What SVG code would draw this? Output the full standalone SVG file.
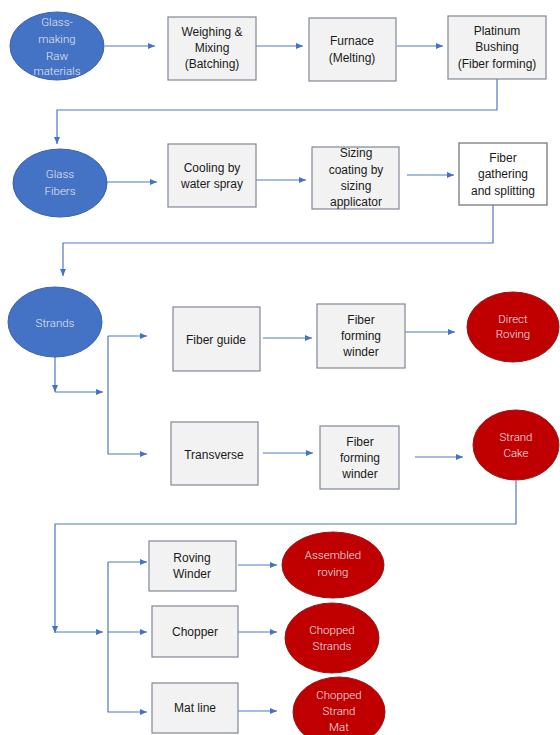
<svg xmlns="http://www.w3.org/2000/svg" width="560" height="735" viewBox="0 0 560 735">
<defs>
<marker id="ah" markerWidth="8" markerHeight="8" refX="7" refY="4" orient="auto" markerUnits="userSpaceOnUse">
<path d="M0,1 L7,4 L0,7 Z" fill="#4472c4"/>
</marker>
<style>
.box{fill:#f2f2f2;stroke:#7f8796;stroke-width:1.2}
.wbox{fill:#ffffff;stroke:#6f6f6f;stroke-width:1.2}
.blue{fill:#4472c4;stroke:#3b64ad;stroke-width:1}
.red{fill:#c00000;stroke:#8f1a1a;stroke-width:1}
.t{font-family:"Liberation Sans",Arial,sans-serif;font-size:12px;fill:#1a1a1a;text-anchor:middle}
.et{font-family:Roboto,"Liberation Sans",sans-serif;font-weight:300;font-size:11.5px;fill:#e6e6ee;text-anchor:middle}
.c{fill:none;stroke:#4f79c2;stroke-width:1.2}
</style>
</defs>
<rect width="560" height="735" fill="#ffffff"/>
<g id="connectors">
<path class="c" d="M105,46 H155" marker-end="url(#ah)"/>
<path class="c" d="M256,46 H303" marker-end="url(#ah)"/>
<path class="c" d="M397,46 H443" marker-end="url(#ah)"/>
<path class="c" d="M497,79 V110 H57 V144" marker-end="url(#ah)"/>
<path class="c" d="M107,182 H157" marker-end="url(#ah)"/>
<path class="c" d="M256,180 H306" marker-end="url(#ah)"/>
<path class="c" d="M407,175 H454" marker-end="url(#ah)"/>
<path class="c" d="M493,205 V243 H63 V276" marker-end="url(#ah)"/>
<path class="c" d="M55,357 V392" marker-end="url(#ah)"/>
<path class="c" d="M55,392 H103" marker-end="url(#ah)"/>
<path class="c" d="M108,336 V454 H147" marker-end="url(#ah)"/>
<path class="c" d="M108,336 H147" marker-end="url(#ah)"/>
<path class="c" d="M263,338 H312" marker-end="url(#ah)"/>
<path class="c" d="M405,332 H455" marker-end="url(#ah)"/>
<path class="c" d="M263,453 H313" marker-end="url(#ah)"/>
<path class="c" d="M415,457 H463" marker-end="url(#ah)"/>
<path class="c" d="M516,481 V524 H55 V633" marker-end="url(#ah)"/>
<path class="c" d="M55,632 H103" marker-end="url(#ah)"/>
<path class="c" d="M108,562 V712 H147" marker-end="url(#ah)"/>
<path class="c" d="M108,562 H147" marker-end="url(#ah)"/>
<path class="c" d="M108,632 H147" marker-end="url(#ah)"/>
<path class="c" d="M238,565 H277" marker-end="url(#ah)"/>
<path class="c" d="M238,632 H277" marker-end="url(#ah)"/>
<path class="c" d="M238,711 H277" marker-end="url(#ah)"/>
</g>
<g id="raw">
<ellipse class="blue" cx="57" cy="46" rx="47" ry="34"/>
<text class="et"><tspan x="57" y="26">Glass-</tspan><tspan x="57" y="43">making</tspan><tspan x="57" y="60">Raw</tspan><tspan x="57" y="75">materials</tspan></text>
</g>
<g id="weighing">
<rect class="box" x="168" y="17" width="88" height="63"/>
<text class="t"><tspan x="212" y="36">Weighing &amp;</tspan><tspan x="212" y="52">Mixing</tspan><tspan x="212" y="68">(Batching)</tspan></text>
</g>
<g id="furnace">
<rect class="box" x="309" y="18" width="87" height="63"/>
<text class="t"><tspan x="352" y="45">Furnace</tspan><tspan x="352" y="62">(Melting)</tspan></text>
</g>
<g id="bushing">
<rect class="box" x="448" y="16" width="98" height="63"/>
<text class="t"><tspan x="497" y="35">Platinum</tspan><tspan x="497" y="51">Bushing</tspan><tspan x="497" y="68">(Fiber forming)</tspan></text>
</g>
<g id="glassfibers">
<ellipse class="blue" cx="60" cy="183" rx="47" ry="34"/>
<text class="et"><tspan x="60" y="178">Glass</tspan><tspan x="60" y="195">Fibers</tspan></text>
</g>
<g id="cooling">
<rect class="box" x="168" y="144" width="88" height="63"/>
<text class="t"><tspan x="212" y="172">Cooling by</tspan><tspan x="212" y="188">water spray</tspan></text>
</g>
<g id="sizing">
<rect class="box" x="312" y="147" width="87" height="62"/>
<text class="t"><tspan x="356" y="157">Sizing</tspan><tspan x="356" y="174">coating by</tspan><tspan x="356" y="190">sizing</tspan><tspan x="356" y="206">applicator</tspan></text>
</g>
<g id="gathering">
<rect class="wbox" x="459" y="143" width="88" height="62"/>
<text class="t"><tspan x="503" y="162">Fiber</tspan><tspan x="503" y="178">gathering</tspan><tspan x="503" y="195">and splitting</tspan></text>
</g>
<g id="strands">
<ellipse class="blue" cx="55" cy="322" rx="47" ry="35"/>
<text class="et"><tspan x="55" y="327">Strands</tspan></text>
</g>
<g id="fiberguide">
<rect class="box" x="173" y="307" width="87" height="64"/>
<text class="t"><tspan x="216" y="344">Fiber guide</tspan></text>
</g>
<g id="winder1">
<rect class="box" x="317" y="304" width="88" height="64"/>
<text class="t"><tspan x="361" y="324">Fiber</tspan><tspan x="361" y="340">forming</tspan><tspan x="361" y="356">winder</tspan></text>
</g>
<g id="directroving">
<ellipse class="red" cx="513" cy="327" rx="46" ry="35"/>
<text class="et"><tspan x="513" y="323">Direct</tspan><tspan x="513" y="338">Roving</tspan></text>
</g>
<g id="transverse">
<rect class="box" x="171" y="422" width="87" height="63"/>
<text class="t"><tspan x="214" y="459">Transverse</tspan></text>
</g>
<g id="winder2">
<rect class="box" x="320" y="426" width="79" height="63"/>
<text class="t"><tspan x="360" y="446">Fiber</tspan><tspan x="360" y="462">forming</tspan><tspan x="360" y="478">winder</tspan></text>
</g>
<g id="strandcake">
<ellipse class="red" cx="516" cy="445" rx="43" ry="35"/>
<text class="et"><tspan x="516" y="441">Strand</tspan><tspan x="516" y="457">Cake</tspan></text>
</g>
<g id="rovingwinder">
<rect class="box" x="149" y="541" width="87" height="50"/>
<text class="t"><tspan x="192" y="562">Roving</tspan><tspan x="192" y="578">Winder</tspan></text>
</g>
<g id="chopper">
<rect class="box" x="152" y="606" width="86" height="51"/>
<text class="t"><tspan x="195" y="636">Chopper</tspan></text>
</g>
<g id="matline">
<rect class="box" x="152" y="683" width="86" height="50"/>
<text class="t"><tspan x="195" y="712">Mat line</tspan></text>
</g>
<g id="assembled">
<ellipse class="red" cx="333" cy="565" rx="51" ry="33"/>
<text class="et"><tspan x="333" y="559">Assembled</tspan><tspan x="333" y="576">roving</tspan></text>
</g>
<g id="choppedstrands">
<ellipse class="red" cx="332" cy="638" rx="47" ry="35"/>
<text class="et"><tspan x="332" y="634">Chopped</tspan><tspan x="332" y="650">Strands</tspan></text>
</g>
<g id="choppedmat">
<ellipse class="red" cx="339" cy="712" rx="46" ry="35"/>
<text class="et"><tspan x="339" y="699">Chopped</tspan><tspan x="339" y="715">Strand</tspan><tspan x="339" y="731">Mat</tspan></text>
</g>
</svg>
